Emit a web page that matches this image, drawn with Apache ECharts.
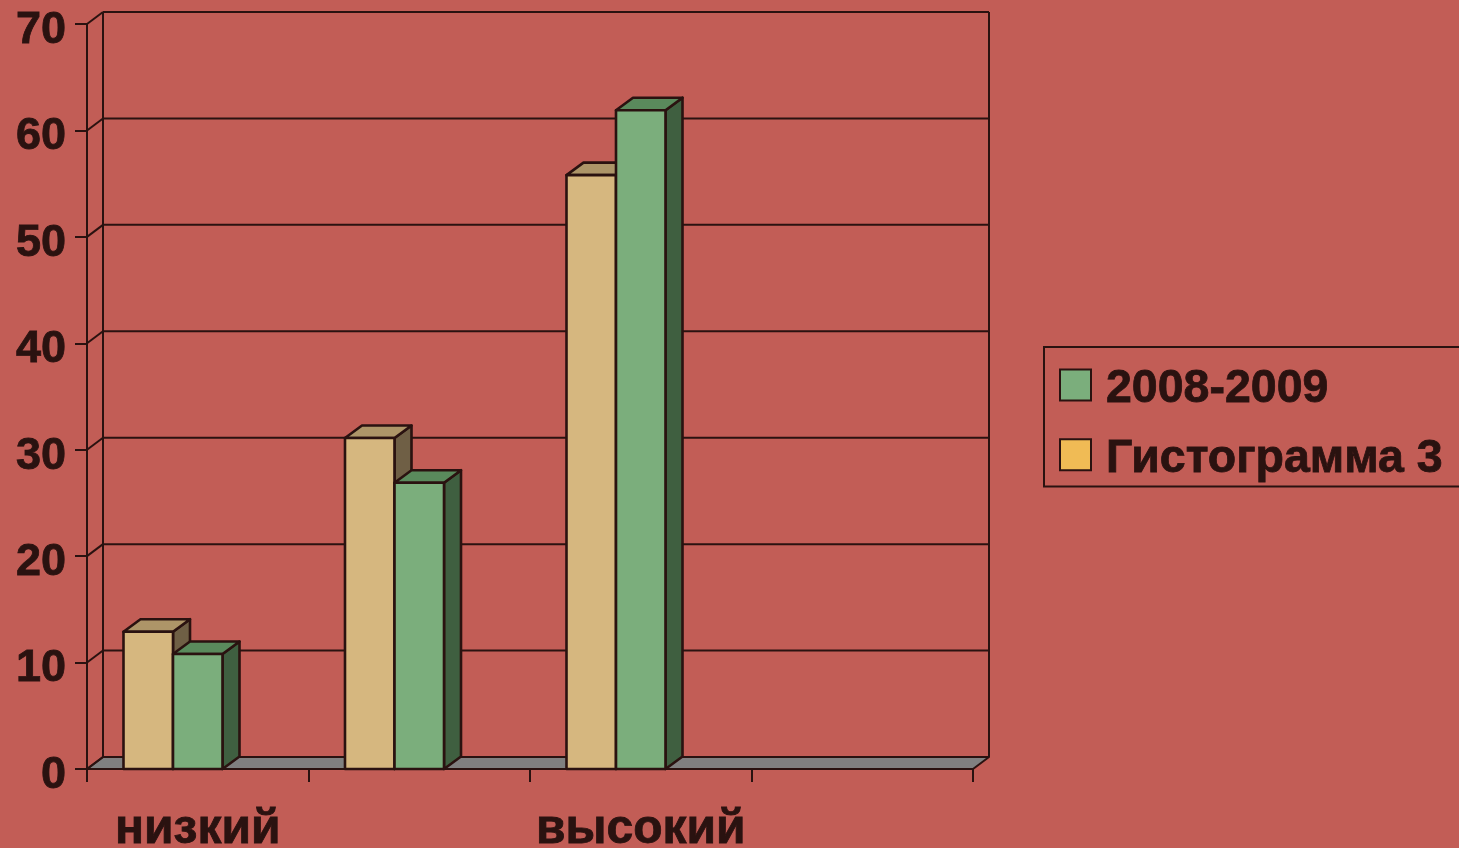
<!DOCTYPE html>
<html><head><meta charset="utf-8">
<style>html,body{margin:0;padding:0;background:#C25D56;overflow:hidden}#c{width:1459px;height:848px}</style>
<script src="https://cdn.jsdelivr.net/npm/echarts@6/dist/echarts.min.js"></script>
</head><body><div id="c"></div>
<script>
const categories = ['низкий', '', 'высокий', ''];
const seriesTanName = 'Гистограмма 3';
const seriesGreenName = '2008-2009';
const tanValues = [12.9, 31.1, 55.8];
const greenValues = [10.8, 26.9, 61.9];
const yTicks = [0, 10, 20, 30, 40, 50, 60, 70];

const INK = '#2A1210', FONT = '"Liberation Sans", Arial, sans-serif';
const DX = 16, DY = -12, BAR_FRAC = 0.2235, BAR_DX = 17, BAR_DY = -12.5;

function poly(points, fill, w) {
  return { type: 'polygon', shape: { points },
    style: { fill, stroke: INK, lineWidth: w || 2, lineJoin: 'round' } };
}
function line(x1, y1, x2, y2) {
  return { type: 'line', shape: { x1, y1, x2, y2 }, style: { stroke: INK, lineWidth: 2, fill: null } };
}
function wallItem(params, api) {
  const v = api.value(0);
  const y = api.coord([0, v])[1];
  const cs = params.coordSys, l = cs.x, r = cs.x + cs.width;
  const kids = [];
  if (v === 0) {
    kids.push(poly([[l, y], [l + DX, y + DY], [r + DX, y + DY], [r, y]], '#808080'));
    kids.push(line(l + DX, cs.y + DY, l + DX, y + DY));
    kids.push(line(r + DX, cs.y + DY, r + DX, y + DY));
  }
  kids.push(line(l, y, l + DX, y + DY));
  kids.push(line(l + DX, y + DY, r + DX, y + DY));
  return { type: 'group', children: kids };
}
function barRender(slot, front, top, side) {
  return function (params, api) {
    const c = api.coord([api.value(0), api.value(1)]);
    const base = api.coord([api.value(0), 0])[1];
    const w = api.size([1, 0])[0] * BAR_FRAC;
    const x0 = c[0] - 1.5 * w + slot * w, x1 = x0 + w, y = c[1];
    return { type: 'group', children: [
      poly([[x1, y], [x1 + BAR_DX, y + BAR_DY], [x1 + BAR_DX, base + BAR_DY], [x1, base]], side, 2.6),
      poly([[x0, y], [x0 + BAR_DX, y + BAR_DY], [x1 + BAR_DX, y + BAR_DY], [x1, y]], top, 2.6),
      poly([[x0, y], [x1, y], [x1, base], [x0, base]], front, 2.6)
    ] };
  };
}
const chart = echarts.init(document.getElementById('c'), null, { renderer: 'canvas' });
chart.setOption({
  animation: false,
  backgroundColor: '#C25D56',
  grid: { left: 87, right: 486, top: 24, bottom: 79, outerBoundsMode: 'none' },
  legend: {
    left: 1044, top: 347, orient: 'vertical', selectedMode: false,
    backgroundColor: 'transparent', borderColor: INK, borderWidth: 2,
    padding: [18, 40, 4, 15], itemWidth: 31, itemHeight: 31, itemGap: 22, icon: 'rect',
    formatter: '{a|{name}}',
    textStyle: { color: INK, fontFamily: FONT, fontWeight: 'bold', fontSize: 46.5,
      textBorderColor: INK, textBorderWidth: 0.8,
      rich: { a: { color: INK, fontFamily: FONT, fontWeight: 'bold', fontSize: 46.5,
        textBorderColor: INK, textBorderWidth: 0.8, padding: [8, 0, 0, 10] } } },
    data: [
      { name: seriesGreenName, itemStyle: { color: '#7BAE7C', borderColor: INK, borderWidth: 2 } },
      { name: seriesTanName, itemStyle: { color: '#F0BB55', borderColor: INK, borderWidth: 2 } }
    ]
  },
  xAxis: {
    type: 'category', data: categories,
    axisLine: { lineStyle: { color: INK, width: 2 } },
    axisTick: { show: true, length: 13, lineStyle: { color: INK, width: 2 } },
    axisLabel: { interval: 0, color: INK, fontFamily: FONT, fontWeight: 'bold', fontSize: 48,
      textBorderColor: INK, textBorderWidth: 0.8, margin: 37 }
  },
  yAxis: {
    type: 'value', min: 0, max: 70, interval: 10,
    splitLine: { show: false },
    axisLine: { show: true, lineStyle: { color: INK, width: 2 } },
    axisTick: { show: true, length: 12, lineStyle: { color: INK, width: 2 } },
    axisLabel: { color: INK, fontFamily: FONT, fontWeight: 'bold', fontSize: 45,
      textBorderColor: INK, textBorderWidth: 0.8, margin: 21,
      verticalAlign: 'top', padding: [-16, 0, 0, 0] }
  },
  series: [
    { type: 'custom', name: 'wall', silent: true, z: 1, coordinateSystem: 'cartesian2d',
      renderItem: wallItem, data: yTicks.map(v => [v]), encode: { y: 0 } },
    { type: 'custom', name: seriesTanName, z: 3, itemStyle: { color: '#F0BB55' },
      renderItem: barRender(0, '#D6B77F', '#AD9568', '#6F5F45'),
      data: tanValues.map((v, i) => [i, v]), encode: { x: 0, y: 1 } },
    { type: 'custom', name: seriesGreenName, z: 4, itemStyle: { color: '#7BAE7C' },
      renderItem: barRender(1, '#7BAE7C', '#5A8A5C', '#3F5F40'),
      data: greenValues.map((v, i) => [i, v]), encode: { x: 0, y: 1 } }
  ]
});
</script></body></html>
